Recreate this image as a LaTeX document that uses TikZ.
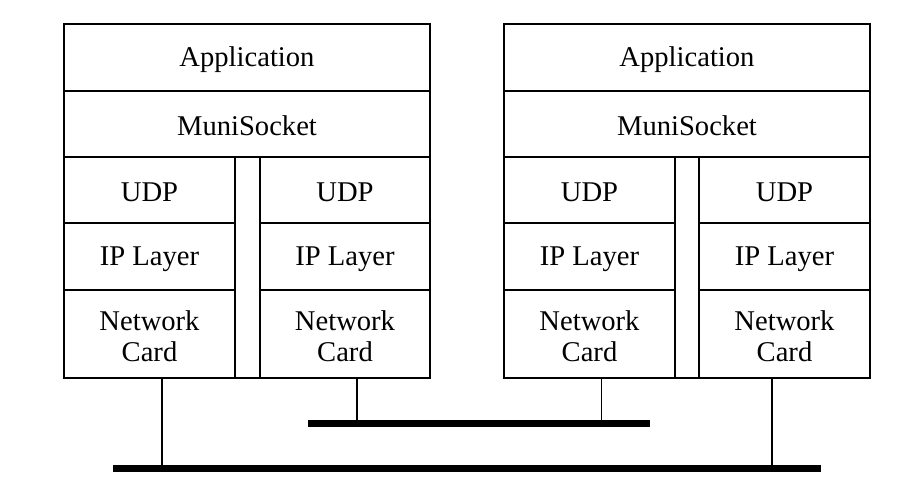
\documentclass[tikz,border=0pt]{standalone}
\usepackage{fontspec}
\setmainfont{Liberation Serif}
\begin{document}
\begin{tikzpicture}[x=1pt,y=-1pt,
  layer/.style={draw=black, line width=1.8pt, rectangle, inner sep=0pt},
  txt/.style={inner sep=0pt, align=center, font=\fontsize{28.6}{31}\selectfont},
  bus/.style={line width=7pt},
  tap/.style={line width=1.8pt}]
\useasboundingbox (0,0) rectangle (924,496);
% helper macro for a box by corners, with its text
\newcommand{\lbox}[6]{\node[layer, minimum width=#4-#2, minimum height=#5-#3] (#1) at ({(#2+#4)/2},{(#3+#5)/2}) {};
  \node[txt] (#1text) at ([yshift=-2.5pt]#1.center) {#6};}
% Left stack
\lbox{appL}{64}{24}{430}{90.7}{Application}
\lbox{muniL}{64}{90.7}{430}{156.7}{MuniSocket}
\lbox{udpLa}{64}{156.7}{235}{223.3}{UDP}
\lbox{ipLa}{64}{223.3}{235}{290}{IP Layer}
\lbox{ncLa}{64}{290}{235}{378}{Network\\Card}
\lbox{gapL}{235}{156.7}{260}{378}{}
\lbox{udpLb}{260}{156.7}{430}{223.3}{UDP}
\lbox{ipLb}{260}{223.3}{430}{290}{IP Layer}
\lbox{ncLb}{260}{290}{430}{378}{Network\\Card}
% Right stack
\lbox{appR}{504}{24}{870}{90.7}{Application}
\lbox{muniR}{504}{90.7}{870}{156.7}{MuniSocket}
\lbox{udpRa}{504}{156.7}{675}{223.3}{UDP}
\lbox{ipRa}{504}{223.3}{675}{290}{IP Layer}
\lbox{ncRa}{504}{290}{675}{378}{Network\\Card}
\lbox{gapR}{675}{156.7}{699}{378}{}
\lbox{udpRb}{699}{156.7}{870}{223.3}{UDP}
\lbox{ipRb}{699}{223.3}{870}{290}{IP Layer}
\lbox{ncRb}{699}{290}{870}{378}{Network\\Card}
% Buses
\coordinate (busUpA) at (308,423);
\coordinate (busUpB) at (650,423);
\coordinate (busLoA) at (113,468);
\coordinate (busLoB) at (821,468);
\draw[bus] (busUpA) -- (busUpB);
\draw[bus] (busLoA) -- (busLoB);
% Taps
\coordinate (t1) at (162,468);
\coordinate (t2) at (357,423);
\coordinate (t3) at (601.5,423);
\coordinate (t4) at (772,468);
\draw[tap] (t1 |- ncLa.south) -- (t1);
\draw[tap] (t2 |- ncLb.south) -- (t2);
\draw[tap] (t3 |- ncRa.south) -- (t3);
\draw[tap] (t4 |- ncRb.south) -- (t4);
\end{tikzpicture}
\end{document}
